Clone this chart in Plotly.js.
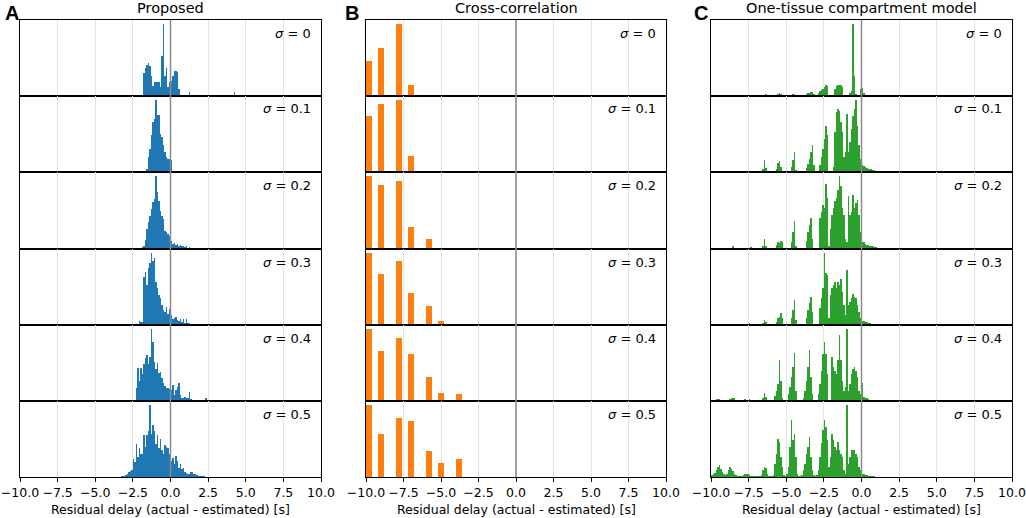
<!DOCTYPE html>
<html><head><meta charset="utf-8">
<script src="https://cdn.plot.ly/plotly-3.0.1.min.js"></script>
<style>html,body{margin:0;padding:0;background:#fff}#plot{width:1026px;height:518px}</style>
</head><body><div id="plot"></div>
<script>
const sigmaLabels = ['0','0.1','0.2','0.3','0.4','0.5'];
const panelTitles = ['Proposed','Cross-correlation','One-tissue compartment model'];
const panelLetters = ['A','B','C'];
const xTicks = [-10,-7.5,-5,-2.5,0,2.5,5,7.5,10];
const xLabel = 'Residual delay (actual - estimated) [s]';

// Proposed: counts in 0.1 s bins, first bin starts at -3.5 s
const proposedSigma0 = [0,0,0,0,0,0,0,0,0,0, 0,0,0,0,0,0,0,70,83,93, 100,90,60,30,43,43,43,43,28,120, 218,60,83,28,43,45,60,75,75,73, 20,0,0,0,0,0,0,13,0,0, 0,0,0,0,0,0,0,0,0,0, 0,0,0,0,0,0,0,0,0,0, 0,0,0,0,0,0,0,13];
const proposedSigma1 = [0,0,0,0,0,0,0,0,0,0, 0,0,0,0,0,0,0,0,0,10, 45,70,110,150,160,217,170,170,115,105, 80,60,45,40,38,35,3,1,0,0, 0,0,0,0,0,0,0,0,0,0, 0,0,0,0,2];
const proposedSigma2 = [0,0,0,0,0,0,0,0,0,0, 0,0,0,0,2,4,6,10,28,60, 80,98,120,140,150,218,168,143,113,98, 88,53,50,45,40,25,15,18,12,15, 10,12,8,10,5,8,3,5];
const proposedSigma3 = [0,0,0,0,0,0,0,0,0,0, 0,0,0,0,13,8,8,140,155,118, 168,183,213,188,198,128,108,88,78,60, 43,38,53,33,48,28,18,20,23,15, 13,18,10,18,5,18,6,6,3,3, 2];
const proposedSigma4 = [0,0,0,0,0,0,0,0,0,0, 0,0,40,100,60,100,80,110,130,138, 110,133,218,178,118,95,113,83,88,70, 55,45,40,38,35,33,48,18,33,43, 53,18,8,10,13,8,10,28,5,0, 0,0,0,0,0,0,0,0,8];
const proposedSigma5 = [0,0,2,3,3,6,8,15,18,22, 55,45,100,60,88,70,70,128,90,128, 138,218,130,158,138,98,128,88,113,80, 70,95,90,88,68,48,58,38,63,48, 28,38,23,28,15,12,10,10,16,14, 8,8,6,4,4,3,3,2];

// Cross-correlation: estimated residual delays and their counts
const xcorrDelays = [-9.8,-9.0,-7.8,-7.0,-5.8,-5.0,-3.8];
const xcorrSigma0 = [105,145,218,33,0,0,0];
const xcorrSigma1 = [170,205,218,47,0,0,0];
const xcorrSigma2 = [218,191,201,66,30,0,0];
const xcorrSigma3 = [217,152,193,97,57,12,0];
const xcorrSigma4 = [217,149,188,140,73,25,21];
const xcorrSigma5 = [217,129,176,169,77,41,54];

// One-tissue compartment model: counts in 0.1 s bins, first bin starts at -10 s
const otcmSigma0 = [0,0,0,0,0,0,0,0,0,0, 0,0,0,0,0,0,0,0,0,0, 0,0,0,0,0,0,0,0,0,0,
  0,0,0,0,0,0,5,0,0,0, 0,0,0,0,6,10,7,0,0,0, 0,0,0,3,6,5,3,0,0,0,
  0,0,0,5,8,10,12,12,6,0, 0,8,14,18,22,28,32,30,0,0, 0,0,20,30,32,33,32,28,0,0,
  0,0,10,16,215,58,5,0,0,20, 25,10,3,3,3,3,2,2,2,2, 2,0,0,0,0,0,0,0,0,0, 0,0,0,0,0];
const otcmSigma1 = [0,0,0,0,0,0,0,0,0,0, 0,0,0,0,0,0,0,0,0,0, 0,0,0,0,0,0,0,0,0,0,
  0,0,0,0,8,35,12,0,0,0, 0,0,0,10,28,32,15,0,0,0, 0,0,0,15,35,60,5,0,0,0,
  0,0,0,12,25,40,60,80,20,0, 0,0,20,45,70,100,140,110,0,0, 0,15,120,180,190,185,150,120,45,60,
  175,60,90,130,170,190,218,140,80,40, 20,18,15,12,10,10,8,6,5,4, 3,2,1,1,0,0,0,0,0,0, 0,0,0,0,0];
const otcmSigma2 = [0,0,0,0,0,0,0,0,0,0, 0,0,0,0,8,4,0,0,0,0, 0,0,0,0,0,3,5,0,0,0,
  0,0,0,0,10,28,8,0,0,0, 0,0,0,12,22,18,25,20,0,0, 0,0,0,20,50,82,10,0,0,0,
  0,0,0,25,50,70,90,30,0,0, 0,0,90,110,130,120,190,150,10,60, 100,120,140,150,175,216,185,120,100,30,
  20,155,100,110,160,120,135,145,100,50, 22,20,15,12,12,10,8,8,6,5, 4,3,2,1,0,0,0,0,0,0, 0,0,0,0,0];
const otcmSigma3 = [2,0,0,0,0,0,3,2,0,0, 0,0,0,0,4,3,0,0,0,0, 0,0,0,2,4,5,0,0,0,0,
  0,0,0,0,6,15,8,0,0,0, 0,0,0,10,20,25,35,22,0,0, 0,0,0,20,45,75,15,0,0,0,
  0,0,0,20,45,65,85,40,0,0, 0,0,50,80,110,217,155,150,20,90, 110,120,130,110,129,120,139,100,60,30,
  164,60,70,80,94,85,80,60,40,20, 12,12,10,8,6,5,4,3,2,2, 2,1,1,0,0,0,0,0,0,0, 0,0,0,0,0];
const otcmSigma4 = [0,0,4,6,5,6,4,2,0,0, 0,0,5,8,10,8,4,0,0,0, 0,3,5,4,3,5,4,0,0,0,
  0,0,0,0,10,25,12,0,0,0, 0,0,15,30,50,120,60,10,0,0, 0,20,40,70,100,141,30,0,0,0,
  0,10,30,60,100,151,70,20,0,0, 0,20,50,90,140,174,140,80,0,0, 131,100,90,80,120,194,120,60,30,40,
  214,30,50,80,95,102,90,70,30,20, 54,12,10,8,5,4,3,2,2,1, 1,0,0,0,0,0,0,0,0,0, 0,0,0,0,0];
const otcmSigma5 = [5,8,12,20,30,35,25,15,8,5, 10,20,30,25,18,10,5,3,2,3, 3,5,8,10,8,5,4,3,2,2,
  3,2,3,5,20,30,28,10,3,2, 3,5,40,70,114,104,60,30,5,3, 10,30,90,169,110,129,60,10,3,2,
  5,20,40,70,90,119,60,20,5,3, 5,20,60,100,140,169,150,110,30,60, 129,110,90,80,104,80,70,60,20,10,
  216,40,60,81,80,80,70,60,30,20, 10,8,6,5,4,3,3,2,2,1, 1,1,1,0,0,0,0,0,0,0, 0,0,0,0,0];

const panels = [
  {color:'#1f77b4', kind:'hist', start:-3.5, bin:0.1,
   rows:[proposedSigma0,proposedSigma1,proposedSigma2,proposedSigma3,proposedSigma4,proposedSigma5]},
  {color:'#ff7f0e', kind:'bars', x:xcorrDelays, bin:0.4,
   rows:[xcorrSigma0,xcorrSigma1,xcorrSigma2,xcorrSigma3,xcorrSigma4,xcorrSigma5]},
  {color:'#2ca02c', kind:'hist', start:-10, bin:0.1,
   rows:[otcmSigma0,otcmSigma1,otcmSigma2,otcmSigma3,otcmSigma4,otcmSigma5]}
];

const W = 1026, H = 518;
const colPx = [[20,321],[366,666],[711,1012]];
const letterPx = [3,343,692];
const rowEdgesPx = [20,96,172,249,325,401,477];
const nRows = 6;
const FONT = 'DejaVu Sans, sans-serif';

const data = [];
const layout = {
  width: W, height: H, margin:{l:0,r:0,t:0,b:0},
  paper_bgcolor:'#fff', plot_bgcolor:'#fff',
  showlegend:false, bargap:0, barmode:'overlay',
  font:{family:FONT, size:12, color:'#000'},
  annotations:[], shapes:[]
};

panels.forEach((p, pi) => {
  const [x0px, x1px] = colPx[pi];
  p.rows.forEach((vals, ri) => {
    const idx = pi*nRows + ri + 1;
    const xa = 'x' + idx, ya = 'y' + idx;
    const t = {type:'bar', y: vals, xaxis: xa, yaxis: ya,
      marker:{color:p.color, line:{width:0}}, hoverinfo:'skip'};
    if (p.kind === 'hist') { t.x0 = p.start + p.bin/2; t.dx = p.bin; t.width = p.bin; }
    else { t.x = p.x; t.width = p.bin; }
    data.push(t);
    const yTopPx = rowEdgesPx[ri], yBotPx = rowEdgesPx[ri+1];
    const bottom = ri === nRows-1;
    layout['xaxis'+idx] = {
      domain:[x0px/W, x1px/W], anchor: ya, range:[-10,10],
      tickvals: xTicks, tickformat:'.1f', showticklabels: bottom,
      ticks: bottom ? 'outside' : '', ticklen: 4, tickwidth: 1, tickcolor:'#000',
      tickfont:{family:FONT, size:12.5, color:'#000'},
      showgrid:true, gridcolor:'#e3e3e3', gridwidth:1,
      showline:true, mirror:true, linecolor:'#000', linewidth:1.2, zeroline:false, fixedrange:true
    };
    const mx = Math.max(...vals);
    layout['yaxis'+idx] = {
      domain:[1 - yBotPx/H, 1 - yTopPx/H], anchor: xa, range:[0, mx*1.05],
      showticklabels:false, ticks:'', showgrid:false, zeroline:false,
      showline:true, mirror:true, linecolor:'#000', linewidth:1.2, fixedrange:true
    };
    layout.shapes.push({type:'line', xref: xa, yref: ya + ' domain', x0:0, x1:0, y0:0, y1:1,
      line:{color:'#8a8a8a', width:1.5}, layer:'above'});
    layout.annotations.push({xref: xa + ' domain', yref: ya + ' domain', x:1, y:1,
      xanchor:'right', yanchor:'middle', xshift:-8, yshift:-13, showarrow:false,
      text:'<i>σ</i> = ' + sigmaLabels[ri], font:{family:FONT, size:13, color:'#000'}});
  });
  const cx = (x0px + x1px)/2/W;
  layout.annotations.push({xref:'paper', yref:'paper', x:cx, y:1-8/H, xanchor:'center', yanchor:'middle',
    showarrow:false, text: panelTitles[pi], font:{family:FONT, size:14.5, color:'#000'}});
  layout.annotations.push({xref:'paper', yref:'paper', x:letterPx[pi]/W, y:1-12.5/H, xanchor:'left', yanchor:'middle',
    showarrow:false, text:'<b>' + panelLetters[pi] + '</b>', font:{family:'Liberation Sans, Arial, sans-serif', size:20, color:'#000'}});
  layout.annotations.push({xref:'paper', yref:'paper', x:cx, y:1-509/H, xanchor:'center', yanchor:'middle',
    showarrow:false, text: xLabel, font:{family:FONT, size:12.5, color:'#000'}});
});

Plotly.newPlot('plot', data, layout, {staticPlot:true, displayModeBar:false});
</script>
</body></html>
